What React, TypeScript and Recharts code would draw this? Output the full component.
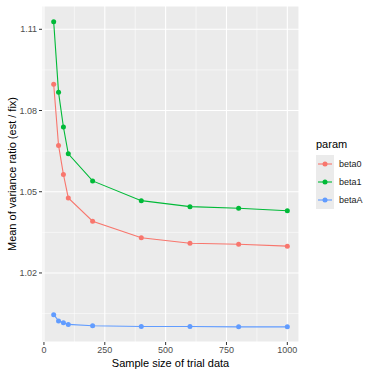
import React from 'react';
import { LineChart, Line, XAxis, YAxis, CartesianGrid, ReferenceLine } from 'recharts';

const sampleSizes = [40, 60, 80, 100, 200, 400, 600, 800, 1000];
const beta0 = [1.0897, 1.0671, 1.0564, 1.0477, 1.0391, 1.0330, 1.0310, 1.0306, 1.0299];
const beta1 = [1.1128, 1.0867, 1.0739, 1.0640, 1.0540, 1.0467, 1.0445, 1.0439, 1.0430];
const betaA = [1.0046, 1.0023, 1.0016, 1.0010, 1.0005, 1.0002, 1.0002, 1.0001, 1.0001];

const xTicks = [0, 250, 500, 750, 1000];
const xMinor = [125, 375, 625, 875];
const yTicks = [1.02, 1.05, 1.08, 1.11];
const yMinor = [1.005, 1.035, 1.065, 1.095];

const series = [
  { key: 'beta0', color: '#F8766D' },
  { key: 'beta1', color: '#00BA38' },
  { key: 'betaA', color: '#619CFF' },
];

const data = sampleSizes.map((n, i) => ({ n, beta0: beta0[i], beta1: beta1[i], betaA: betaA[i] }));

const FONT = '"Liberation Sans", Arial, sans-serif';

const LegendBox = () => (
  <div style={{ position: 'absolute', left: 316, top: 137, fontFamily: FONT, color: '#000' }}>
    <div style={{ fontSize: 11, marginBottom: 4, lineHeight: '14px' }}>param</div>
    {series.map((s) => (
      <div key={s.key} style={{ display: 'flex', alignItems: 'center', height: 18 }}>
        <svg width={18} height={18} style={{ background: '#EBEBEB', display: 'block' }}>
          <line x1={2} y1={9} x2={16} y2={9} stroke={s.color} strokeWidth={1.1} />
          <circle cx={9} cy={9} r={2.5} fill={s.color} />
        </svg>
        <span style={{ fontSize: 9, marginLeft: 5, color: '#1a1a1a' }}>{s.key}</span>
      </div>
    ))}
  </div>
);

export default function App() {
  return (
    <div style={{ position: 'absolute', left: 0, top: 0, width: 370, height: 376, background: '#fff' }}>
      <LineChart width={370} height={376} data={data} margin={{ top: 6, right: 71, bottom: 0, left: 0 }}>
        <CartesianGrid fill="#EBEBEB" stroke="#FFFFFF" strokeWidth={1.1} />
        {xMinor.map((v) => (
          <ReferenceLine key={'x' + v} x={v} stroke="#FFFFFF" strokeWidth={0.55} />
        ))}
        {yMinor.map((v) => (
          <ReferenceLine key={'y' + v} y={v} stroke="#FFFFFF" strokeWidth={0.55} />
        ))}
        <XAxis
          dataKey="n"
          type="number"
          domain={[-8, 1048]}
          ticks={xTicks}
          allowDataOverflow
          height={34}
          axisLine={false}
          tickSize={3}
          tickLine={{ stroke: '#333333' }}
          tick={{ fill: '#4D4D4D', fontSize: 9, fontFamily: FONT }}
          label={{
            content: ({ viewBox }: any) => (
              <text
                x={viewBox.x + viewBox.width / 2}
                y={367}
                textAnchor="middle"
                fontSize={11}
                fontFamily={FONT}
                fill="#000"
              >
                Sample size of trial data
              </text>
            ),
          }}
        />
        <YAxis
          type="number"
          domain={[0.9945, 1.1186]}
          ticks={yTicks}
          allowDataOverflow
          width={42}
          axisLine={false}
          tickSize={3}
          tickLine={{ stroke: '#333333' }}
          tickFormatter={(v: number) => v.toFixed(2)}
          tick={{ fill: '#4D4D4D', fontSize: 9, fontFamily: FONT }}
          label={{
            content: ({ viewBox }: any) => {
              const cy = viewBox.y + viewBox.height / 2;
              return (
                <text
                  x={12}
                  y={cy}
                  transform={`rotate(-90 12 ${cy})`}
                  textAnchor="middle"
                  dominantBaseline="central"
                  fontSize={11}
                  fontFamily={FONT}
                  fill="#000"
                >
                  Mean of variance ratio (est / fix)
                </text>
              );
            },
          }}
        />
        {series.map((s) => (
          <Line
            key={s.key}
            dataKey={s.key}
            stroke={s.color}
            strokeWidth={1.1}
            type="linear"
            dot={{ r: 2.5, fill: s.color, stroke: s.color, strokeWidth: 0 }}
            activeDot={false}
            isAnimationActive={false}
          />
        ))}
      </LineChart>
      <LegendBox />
    </div>
  );
}
